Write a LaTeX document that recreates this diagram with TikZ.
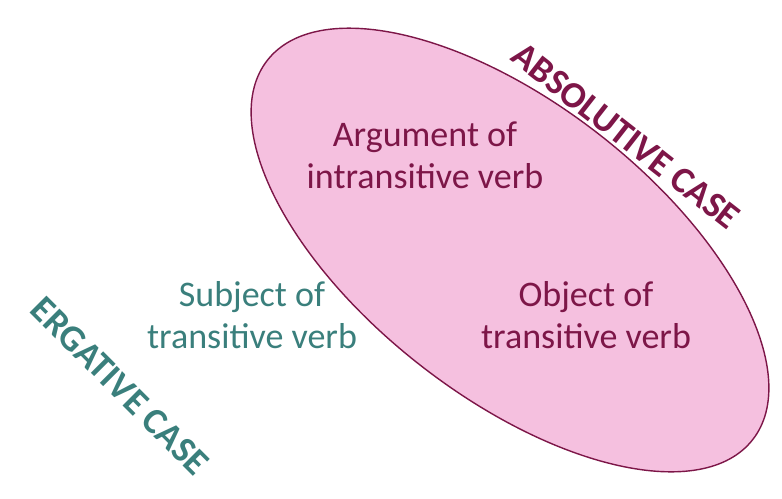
\documentclass[tikz,border=0pt]{standalone}
\usepackage{fontspec}
\setmainfont{Carlito}
\usetikzlibrary{positioning}
\definecolor{pinkfill}{HTML}{F5C0DF}
\definecolor{maroon}{HTML}{7D1648}
\definecolor{tealtext}{HTML}{3A7F7C}
\tikzset{
  role/.style={align=center,font=\fontsize{20.5}{24}\selectfont},
  casename/.style={font=\fontsize{21}{24}\selectfont\bfseries}
}
\begin{document}
\begin{tikzpicture}[x=0.02cm,y=-0.02cm]
\useasboundingbox (0,0) rectangle (782,498);
\draw[maroon,thick,fill=pinkfill,rotate around={-38:(510,250)}] (510,250) ellipse (308 and 146);
\node[role,text=maroon] (argument) at (425,155) {Argument of\\intransitive verb};
\node[role,text=maroon] (object) at (586,315) {Object of\\transitive verb};
\node[role,text=tealtext] (subject) at (252,315) {Subject of\\transitive verb};
\node[casename,text=maroon,rotate=-38] (absolutive) at (626,136) {ABSOLUTIVE CASE};
\node[casename,text=tealtext,rotate=-45] (ergative) at (120,386) {ERGATIVE CASE};
\end{tikzpicture}
\end{document}
